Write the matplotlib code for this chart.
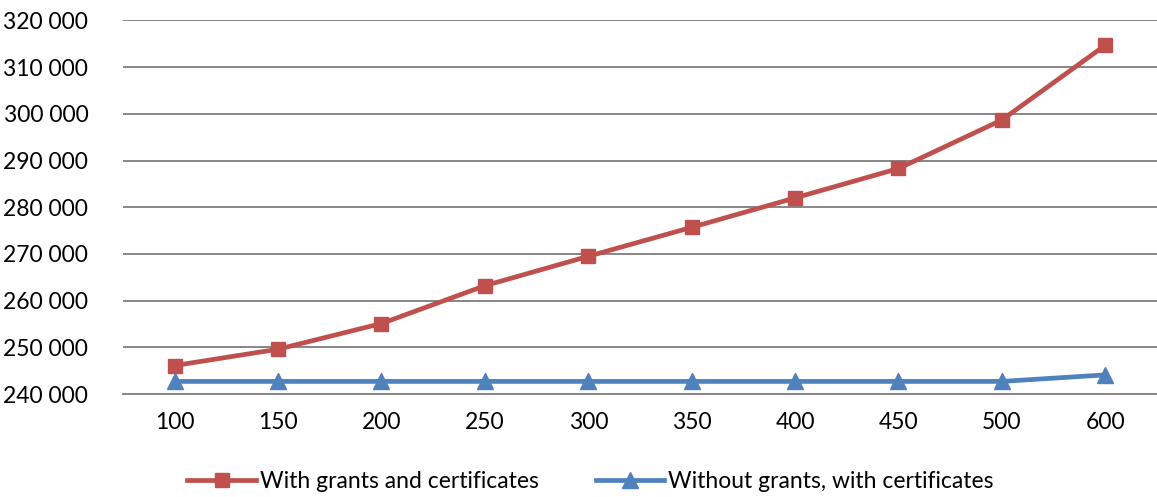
import matplotlib
matplotlib.use("Agg")
import matplotlib.pyplot as plt
from matplotlib.ticker import FuncFormatter

# quota sizes and total costs for both scenarios
quota = ["100", "150", "200", "250", "300", "350", "400", "450", "500", "600"]
with_grants = [246100, 249600, 255100, 263200, 269500, 275700, 282000, 288300, 298700, 314700]
without_grants = [242700, 242700, 242700, 242700, 242700, 242700, 242700, 242700, 242700, 244100]

plt.rcParams['font.family'] = ['Lato', 'DejaVu Sans']

fig = plt.figure(figsize=(11.57, 4.97), dpi=100)
ax = fig.add_axes([0.1063, 0.2072, 0.8937, 0.7516])

x = range(len(quota))
ax.plot(x, with_grants, color="#C0504D", lw=3.4, marker="s", ms=10,
        label="With grants and certificates", zorder=3)
ax.plot(x, without_grants, color="#4F81BD", lw=3.4, marker="^", ms=11,
        label="Without grants, with certificates", zorder=3)

ax.set_xlim(-0.5, len(quota) - 0.5)
ax.set_ylim(240000, 320000)
ax.set_yticks(range(240000, 320001, 10000))
ax.yaxis.set_major_formatter(FuncFormatter(lambda v, p: f"{int(v):,}".replace(",", " ")))
ax.set_xticks(list(x))
ax.set_xticklabels(quota)

ax.grid(axis="y", color="#868686", lw=1.4)
ax.set_axisbelow(True)
for s in ["top", "right", "left"]:
    ax.spines[s].set_visible(False)
ax.spines["bottom"].set_color("#868686")
ax.spines["bottom"].set_linewidth(1.4)
ax.tick_params(axis="both", length=0, labelsize=16.5, colors="black")
ax.tick_params(axis="y", pad=25)
ax.tick_params(axis="x", pad=13)

ax.legend(loc="upper center", bbox_to_anchor=(0.452, -0.15), ncol=2, frameon=False,
          fontsize=16.5, handlelength=3.0, handletextpad=0.15, columnspacing=2.5)

fig.savefig("out.png", dpi=100)
